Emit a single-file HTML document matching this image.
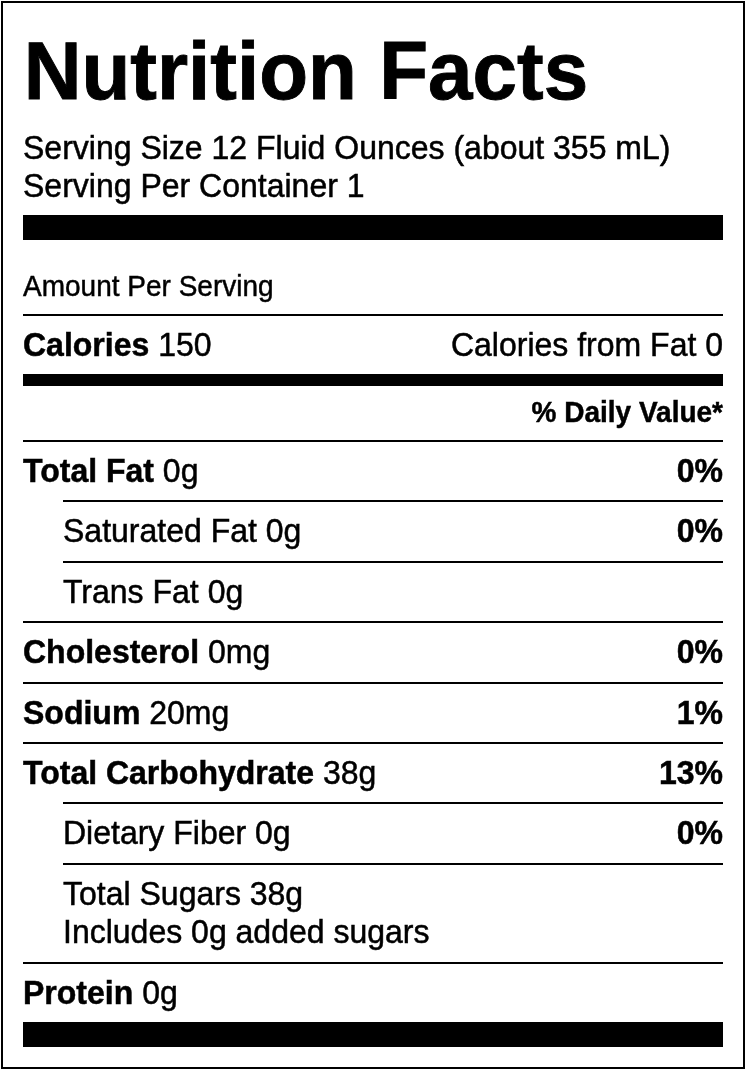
<!DOCTYPE html>
<html lang="en">
<head>
<meta charset="utf-8">
<title>Nutrition Facts</title>
<style>
html,body{margin:0;padding:0;background:#fff;}
body{width:748px;height:1071px;position:relative;overflow:hidden;font-family:"Liberation Sans",sans-serif;color:#000;}
.box{position:absolute;left:1px;top:1px;width:740px;height:1064px;border:2px solid #000;}
.t{position:absolute;white-space:nowrap;line-height:1;margin:0;padding:0;font-weight:normal;transform:scaleY(1.032);}
.h{font-size:80px;transform-origin:0 67px;-webkit-text-stroke:0.9px #000;transform:scaleY(1.015);left:23.7px;}
.m{font-size:32px;transform-origin:0 27px;-webkit-text-stroke:0.5px #000;}
.s{font-size:28px;transform-origin:0 23px;-webkit-text-stroke:0.45px #000;}
.l{left:23px;}
.i{left:63px;}
.r{right:25px;text-align:right;}
b{font-weight:bold;}
.ln{position:absolute;background:#000;height:2px;right:25px;}
.bar{position:absolute;background:#000;left:23px;right:25px;}
</style>
</head>
<body>
<div class="box"></div>

<h1 class="t h" style="top:32px"><b>Nutrition Facts</b></h1>
<div class="t m l" style="top:132px">Serving Size 12 Fluid Ounces (about 355 mL)</div>
<div class="t m l" style="top:170px">Serving Per Container 1</div>
<div class="bar" style="top:215px;height:25px"></div>
<div class="t s l" style="top:273px">Amount Per Serving</div>
<div class="ln" style="top:314px;left:23px"></div>
<div class="t m l" style="top:329px"><b>Calories</b> 150</div>
<div class="t m r" style="top:329px">Calories from Fat 0</div>
<div class="bar" style="top:374px;height:12px"></div>
<div class="t s r" style="top:398.5px"><b>% Daily Value*</b></div>
<div class="ln" style="top:440px;left:23px"></div>
<div class="t m l" style="top:455px"><b>Total Fat</b> 0g</div>
<div class="t m r" style="top:455px"><b>0%</b></div>
<div class="ln" style="top:500px;left:63px"></div>
<div class="t m i" style="top:515px">Saturated Fat 0g</div>
<div class="t m r" style="top:515px"><b>0%</b></div>
<div class="ln" style="top:561px;left:63px"></div>
<div class="t m i" style="top:576px">Trans Fat 0g</div>
<div class="ln" style="top:621px;left:23px"></div>
<div class="t m l" style="top:636px"><b>Cholesterol</b> 0mg</div>
<div class="t m r" style="top:636px"><b>0%</b></div>
<div class="ln" style="top:682px;left:23px"></div>
<div class="t m l" style="top:697px"><b>Sodium</b> 20mg</div>
<div class="t m r" style="top:697px"><b>1%</b></div>
<div class="ln" style="top:742px;left:23px"></div>
<div class="t m l" style="top:757px"><b>Total Carbohydrate</b> 38g</div>
<div class="t m r" style="top:757px"><b>13%</b></div>
<div class="ln" style="top:802px;left:63px"></div>
<div class="t m i" style="top:817px">Dietary Fiber 0g</div>
<div class="t m r" style="top:817px"><b>0%</b></div>
<div class="ln" style="top:863px;left:63px"></div>
<div class="t m i" style="top:878px">Total Sugars 38g</div>
<div class="t m i" style="top:916px">Includes 0g added sugars</div>
<div class="ln" style="top:962px;left:23px"></div>
<div class="t m l" style="top:977px"><b>Protein</b> 0g</div>
<div class="bar" style="top:1022px;height:25px"></div>
</body>
</html>
